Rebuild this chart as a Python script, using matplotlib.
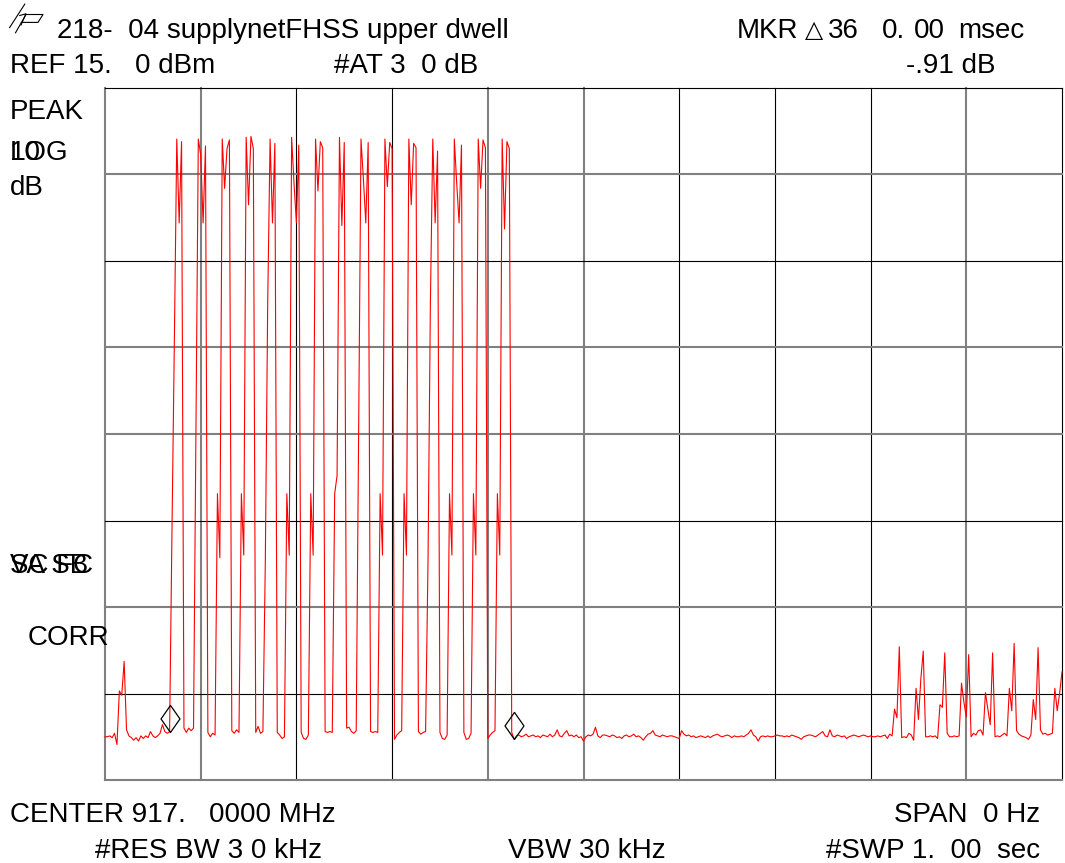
import numpy as np
import matplotlib
matplotlib.use("Agg")
import matplotlib.pyplot as plt
from matplotlib.lines import Line2D

# ---------------- data ----------------
SWEEP_MS = 1000.0
REF_DBM = 15.0
DB_PER_DIV = 10.0
N_XDIV = 10
N_YDIV = 8

TRACE = [
    -60.0, -60.0, -59.9, -60.1, -59.6, -60.9, -54.7, -55.2, -51.3, -59.2,
    -59.9, -60.1, -60.4, -60.1, -60.5, -59.9, -60.2, -59.9, -60.1, -59.4,
    -59.9, -60.1, -59.9, -59.6, -58.6, -59.4, -59.6, -59.4, -36.0, -14.0,
    9.1, -0.6, 8.8, -59.0, -59.5, -59.0, -59.3, -59.0, -25.0, 9.1,
    7.3, -0.6, 8.3, -59.5, -60.0, -59.6, -59.8, -31.9, -39.3, 9.1,
    3.4, 8.0, 9.0, -59.3, -59.6, -59.2, -59.5, -31.9, -39.0, 9.3,
    1.5, 9.4, 8.0, -59.5, -58.8, -59.6, -59.4, -40.0, -10.0, 9.1,
    -0.6, 8.6, -59.5, -59.8, -60.2, -60.0, -31.9, -39.0, 9.3, 4.0,
    -0.6, 8.4, -59.5, -60.2, -60.3, -59.8, -31.9, -39.0, 9.1, 3.1,
    8.8, 8.1, -59.4, -59.5, -59.4, -59.5, -31.9, -29.8, 9.3, -0.9,
    8.7, -59.0, -58.9, -59.4, -59.6, -59.3, -25.0, 9.1, 4.5, -0.6,
    8.7, -59.4, -59.5, -59.4, -59.5, -31.9, -39.0, 9.1, 3.6, 8.7,
    8.0, -60.3, -59.8, -59.5, -59.3, -31.9, -39.0, 9.1, 1.5, 8.6,
    8.1, -59.4, -59.7, -59.5, -59.4, -40.0, -10.0, 9.1, -0.6, 7.7,
    -59.5, -60.2, -60.3, -59.8, -31.9, -39.0, 9.1, 4.0, -0.6, 8.4,
    -59.5, -60.3, -60.2, -59.6, -31.9, -39.0, 9.1, 3.4, 9.0, 8.1,
    -60.2, -59.8, -59.5, -59.3, -31.9, -39.0, 9.1, -1.3, 8.8, 8.0,
    -59.5, -60.3, -59.9, -59.8, -60.0, -59.9, -59.7, -60.0, -59.9, -59.8,
    -60.0, -59.9, -60.1, -59.8, -59.9, -60.0, -59.7, -60.0, -59.8, -59.2,
    -59.9, -60.0, -59.6, -59.3, -59.9, -59.8, -60.0, -59.8, -60.1, -60.0,
    -60.5, -60.0, -59.8, -59.9, -59.7, -58.9, -59.9, -60.1, -59.8, -59.8,
    -59.9, -60.0, -59.8, -59.9, -60.1, -60.0, -60.2, -59.9, -59.8, -60.0,
    -59.9, -59.7, -60.0, -59.9, -60.1, -60.4, -60.0, -59.7, -59.6, -59.3,
    -59.8, -59.9, -60.0, -59.8, -59.9, -60.0, -59.9, -59.9, -60.0, -60.1,
    -60.2, -59.3, -59.7, -59.9, -59.8, -60.0, -59.9, -60.1, -60.0, -59.9,
    -60.0, -60.1, -59.9, -60.1, -59.9, -59.8, -59.7, -59.9, -60.0, -59.9,
    -59.8, -59.9, -60.1, -59.9, -60.0, -60.0, -59.9, -60.0, -59.8, -59.6,
    -59.2, -59.8, -60.0, -60.5, -60.0, -59.9, -60.0, -59.9, -60.0, -60.0,
    -59.9, -59.8, -59.9, -59.9, -60.0, -59.9, -60.0, -59.8, -59.9, -60.0,
    -60.1, -60.3, -60.0, -59.9, -59.8, -59.8, -59.9, -60.0, -59.8, -59.6,
    -59.4, -59.9, -60.0, -59.2, -59.9, -60.0, -59.8, -59.9, -60.0, -59.9,
    -60.2, -60.0, -59.9, -59.8, -59.9, -60.0, -59.9, -59.8, -59.9, -60.0,
    -59.9, -60.0, -60.0, -59.9, -60.0, -59.9, -59.8, -60.2, -59.7, -59.9,
    -56.8, -57.8, -49.6, -60.1, -60.0, -60.1, -59.6, -59.8, -60.4, -54.4,
    -58.0, -53.3, -50.1, -60.0, -60.0, -59.9, -60.0, -59.9, -60.2, -56.3,
    -56.6, -50.3, -59.6, -60.0, -60.0, -59.9, -60.0, -59.9, -53.8, -56.0,
    -57.7, -50.5, -60.0, -59.6, -59.8, -59.3, -59.2, -59.8, -54.9, -56.8,
    -58.6, -50.3, -60.0, -59.9, -60.0, -59.8, -59.6, -59.9, -54.4, -57.0,
    -49.2, -59.3, -59.7, -59.9, -60.0, -60.1, -60.3, -59.8, -55.7, -58.0,
    -49.7, -59.2, -59.7, -59.6, -59.8, -59.7, -59.6, -54.4, -57.0, -55.0,
    -52.5,
]
MARKER_IDX = [27, 171]

# grid line styles (vertical: left->right, horizontal: top->bottom)
VLINE_GRAY = [True, True, False, False, True, True, False, False, False, True, False]
HLINE_GRAY = [False, True, False, True, True, False, True, False, True]

TEXTS = [
    # (x_px, baseline_y_px, text, ha, fontsize)
    (57, 38, "218-  04 supplynetFHSS upper dwell", "left", 20),
    (10, 73, "REF 15.   0 dBm", "left", 20),
    (334, 73, "#AT 3  0 dB", "left", 20),
    (737, 38, "MKR", "left", 20),
    (805, 37, "\u25b3", "left", 17),
    (828, 38, "36", "left", 20),
    (882, 38, "0.", "left", 20),
    (914, 38, "00", "left", 20),
    (958, 38, "msec", "left", 20),
    (995, 73, "-.91 dB", "right", 20),
    (10, 119, "PEAK", "left", 20),
    (10, 160, "LOG", "left", 20),
    (10, 160, "10", "left", 20),
    (10, 195, "dB", "left", 20),
    (10, 573, "VA SB", "left", 20),
    (10, 573, "SC FC", "left", 20),
    (28, 645, "CORR", "left", 20),
    (10, 822, "CENTER 917.   0000 MHz", "left", 20),
    (1040, 822, "SPAN  0 Hz", "right", 20),
    (95, 858, "#RES BW 3 0 kHz", "left", 20),
    (508, 858, "VBW 30 kHz", "left", 20),
    (1040, 858, "#SWP 1.  00  sec", "right", 20),
]

# ---------------- figure ----------------
W, H = 1065, 863
fig = plt.figure(figsize=(W / 100, H / 100), dpi=100)
fig.patch.set_facecolor("white")

L, R, T, B = 105, 1062, 88, 780
ax = fig.add_axes([L / W, 1 - B / H, (R - L) / W, (B - T) / H])
ax.set_xlim(0, SWEEP_MS)
ybot = REF_DBM - N_YDIV * DB_PER_DIV
ax.set_ylim(ybot, REF_DBM)
ax.set_xticks([])
ax.set_yticks([])
for s in ax.spines.values():
    s.set_visible(False)

for k, g in enumerate(VLINE_GRAY):
    ax.axvline(k * SWEEP_MS / N_XDIV, color="#808080" if g else "black",
               lw=1.5 if g else 0.8, clip_on=False, zorder=1)
for k, g in enumerate(HLINE_GRAY):
    ax.axhline(REF_DBM - k * DB_PER_DIV, color="#808080" if g else "black",
               lw=1.5 if g else 0.8, clip_on=False, zorder=1)

t = np.linspace(0, SWEEP_MS, len(TRACE))
y = np.array(TRACE)
ax.plot(t, y, color="red", lw=0.8, zorder=3, clip_on=False)

diamond = [(0, 0), (0.35, 0.5), (0, 1), (-0.35, 0.5), (0, 0)]
ax.plot(t[MARKER_IDX], y[MARKER_IDX], linestyle="none", marker=diamond,
        markersize=39, markerfacecolor="none", markeredgecolor="black",
        markeredgewidth=0.9, zorder=4, clip_on=False)

fam = ["Liberation Sans", "DejaVu Sans"]
for x, yb, s, ha, fs in TEXTS:
    fig.text(x / W, 1 - yb / H, s, ha=ha, va="baseline", fontsize=fs,
             family=fam, color="black", zorder=5)

# hp logo (decorative strokes)
logo = [
    [(9.6, 27.6), (24.8, 4.1)],
    [(19.7, 15.5), (25.9, 13.8), (21.0, 25.0)],
    [(26.0, 14.5), (43.0, 14.5), (38.0, 22.4), (21.4, 22.4)],
    [(26.0, 14.5), (15.5, 32.8)],
]
for seg in logo:
    xs = [p[0] / W for p in seg]
    ys = [1 - p[1] / H for p in seg]
    fig.add_artist(Line2D(xs, ys, color="black", lw=0.8))

fig.savefig("out.png", dpi=100, facecolor="white")
